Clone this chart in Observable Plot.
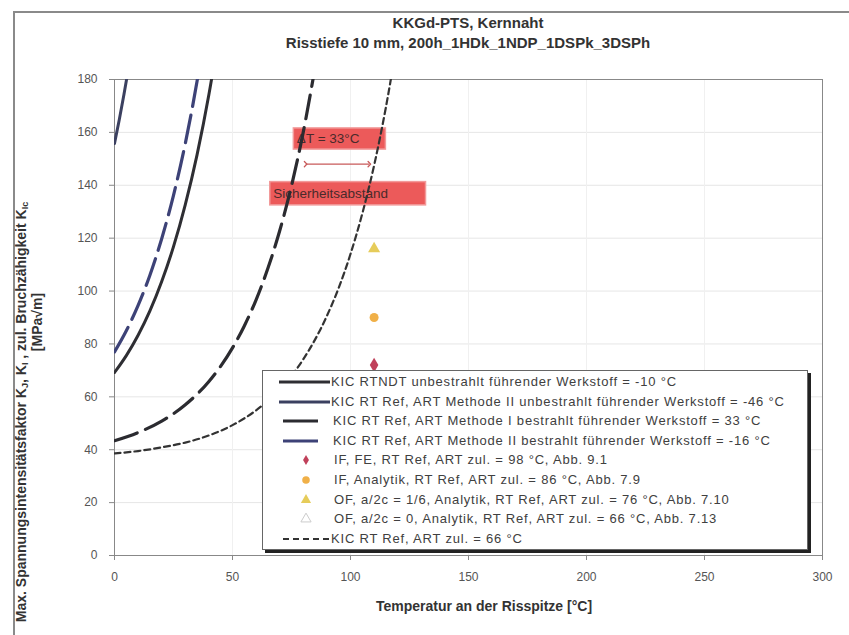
<!DOCTYPE html>
<html><head><meta charset="utf-8">
<script src="https://cdn.jsdelivr.net/npm/d3@7"></script>
<script src="https://cdn.jsdelivr.net/npm/@observablehq/plot@0.6"></script>
<style>
body{margin:0;background:#fff;font-family:"Liberation Sans",Arial,sans-serif;}
#wrap{position:relative;width:849px;height:635px;overflow:hidden;background:#fff;}
#wrap svg{position:absolute;left:0;top:0;}
.frame{position:absolute;left:13px;top:11px;width:900px;height:700px;border-left:2px solid #8a8a8a;border-top:2px solid #8a8a8a;}
.title{position:absolute;left:0;width:936px;text-align:center;font-weight:bold;font-size:15px;color:#333;white-space:nowrap;}
.rot{position:absolute;transform:translate(-50%,-50%) rotate(-90deg);white-space:nowrap;font-weight:bold;font-size:14px;color:#333;}
.rot sub{font-size:9px;vertical-align:-2px;}
.xlab{position:absolute;left:484px;top:598px;transform:translateX(-50%);font-weight:bold;font-size:14px;color:#333;white-space:nowrap;}
#legend{position:absolute;left:262px;top:370px;width:544px;height:178px;border:1px solid #666;box-shadow:3px 3px 0 #222;background:#fff;}
.row{position:absolute;left:0;height:19px;font-size:13px;letter-spacing:0.8px;color:#404040;white-space:nowrap;}
.row svg{position:absolute;left:0;top:0;}
.row span{position:absolute;top:2px;}
#wrap svg text.boxlab{letter-spacing:0.5px;}
</style></head><body>
<div id="wrap"></div>
<script>
// ---- data ----
const xTicks = [0, 50, 100, 150, 200, 250, 300];
const yTicks = [0, 20, 40, 60, 80, 100, 120, 140, 160, 180];

// KIC RTNDT unbestrahlt (-10 °C)
const rtndtT = [0, 5, 10, 15, 20, 25, 30, 35, 40, 45];
const rtndtK = [69.2, 75.6, 83.3, 92.5, 103.6, 116.8, 132.7, 151.6, 174.3, 201.5];
// KIC RT Ref, ART Methode II unbestrahlt (-46 °C)
const m2uT = [0, 2, 4, 6];
const m2uK = [155.8, 164.7, 174.3, 184.6];
// KIC RT Ref, ART Methode I bestrahlt (33 °C)
const m1bT = [0, 10, 20, 30, 40, 50, 55, 60, 65, 70, 75, 80, 85];
const m1bK = [43.4, 46.5, 50.8, 57.0, 65.8, 78.5, 86.8, 96.7, 108.6, 122.8, 139.8, 160.2, 184.6];
// KIC RT Ref, ART Methode II bestrahlt (-16 °C)
const m2bT = [0, 5, 10, 15, 20, 25, 30, 35, 40];
const m2bK = [77.0, 85.0, 94.6, 106.0, 119.8, 136.2, 155.8, 179.4, 207.6];
// KIC RT Ref, ART zul. (66 °C)
const zulT = [0, 10, 20, 30, 40, 50, 60, 70, 80, 90, 95, 100, 105, 110, 115, 120];
const zulK = [38.6, 39.5, 40.9, 42.7, 45.4, 49.3, 54.9, 62.8, 74.2, 90.6, 101.2, 114.0, 129.3, 147.5, 169.5, 195.7];

// single results
const pointNames = ["IF, FE", "IF, Analytik", "OF, a/2c = 1/6"];
const pointT = [110, 110, 110];
const pointK = [72, 90, 116];

const legendLabels = [
  "KIC RTNDT unbestrahlt führender Werkstoff = -10 °C",
  "KIC RT Ref, ART Methode II unbestrahlt führender Werkstoff = -46 °C",
  "KIC RT Ref, ART Methode I bestrahlt führender Werkstoff = 33 °C",
  "KIC RT Ref, ART Methode II bestrahlt führender Werkstoff = -16 °C",
  "IF, FE, RT Ref, ART zul. = 98 °C, Abb. 9.1",
  "IF, Analytik, RT Ref, ART zul. = 86 °C, Abb. 7.9",
  "OF, a/2c = 1/6, Analytik, RT Ref, ART zul. = 76 °C, Abb. 7.10",
  "OF, a/2c = 0, Analytik, RT Ref, ART zul. = 66 °C, Abb. 7.13",
  "KIC RT Ref, ART zul. = 66 °C"
];

// annotations (data coordinates)
const boxTexts = ["ΔT = 33°C", "Sicherheitsabstand"];
const boxX1 = [76, 66];
const boxX2 = [115, 132];
const boxY1 = [153.5, 132.4];
const boxY2 = [161.5, 141.2];
const arrowX = [81, 108];
const arrowY = 148;

// ---- build ----
const toRows = (T, K) => T.map((t, i) => ({t, k: K[i]}));
const boxes = boxTexts.map((s, i) => ({s, x1: boxX1[i], x2: boxX2[i], y1: boxY1[i], y2: boxY2[i], ym: (boxY1[i] + boxY2[i]) / 2}));
const points = pointNames.map((n, i) => ({n, t: pointT[i], k: pointK[i]}));

const styles = {
  rtndt: {stroke: "#2e2e33", strokeWidth: 3},
  m2u:   {stroke: "#3b4060", strokeWidth: 3},
  m1b:   {stroke: "#2b2b30", strokeWidth: 3.2, strokeDasharray: "24,9"},
  m2b:   {stroke: "#3d4277", strokeWidth: 3.2, strokeDasharray: "28,9"},
  zul:   {stroke: "#333", strokeWidth: 2.2, strokeDasharray: "6,4"}
};
const symbols = ["diamond", "circle", "triangle"];
const symFill = ["#c0405a", "#f0b048", "#e6cc5a"];

const chart = Plot.plot({
  width: 849, height: 635,
  marginLeft: 114, marginRight: 27, marginTop: 79, marginBottom: 80,
  x: {domain: [0, 300]},
  y: {domain: [0, 180]},
  style: {fontFamily: "Liberation Sans, Arial, sans-serif", fontSize: "12px", color: "#555", background: "transparent", overflow: "visible"},
  marks: [
    Plot.gridY(yTicks, {stroke: "#e6e6e6", strokeOpacity: 1}),
    Plot.gridX(xTicks, {stroke: "#f0f0f0", strokeOpacity: 1}),
    Plot.frame({stroke: "#888"}),
    Plot.axisX(xTicks, {tickSize: 5, tickPadding: 12, label: null, stroke: "#888"}),
    Plot.axisY(yTicks, {tickSize: 5, tickPadding: 12, label: null, stroke: "#888"}),
    Plot.rect(boxes, {x1: "x1", x2: "x2", y1: "y1", y2: "y2", fill: "#ec5a5a", stroke: "#f29a9a", strokeWidth: 1.5}),
    Plot.text(boxes, {x: "x1", y: "ym", text: "s", textAnchor: "start", dx: 3, fill: "#4a2a2a", fontSize: 13.5, className: "boxlab"}),
    Plot.link([{a: arrowX[0], b: arrowX[1]}], {x1: "a", x2: "b", y1: () => arrowY, y2: () => arrowY, stroke: "#c85a5a", strokeWidth: 1.3, marker: "arrow"}),
    Plot.line(toRows(zulT, zulK), {x: "t", y: "k", curve: "monotone-x", clip: true, ...styles.zul}),
    Plot.line(toRows(m1bT, m1bK), {x: "t", y: "k", curve: "monotone-x", clip: true, ...styles.m1b}),
    Plot.line(toRows(m2bT, m2bK), {x: "t", y: "k", curve: "monotone-x", clip: true, ...styles.m2b}),
    Plot.line(toRows(rtndtT, rtndtK), {x: "t", y: "k", curve: "monotone-x", clip: true, ...styles.rtndt}),
    Plot.line(toRows(m2uT, m2uK), {x: "t", y: "k", curve: "monotone-x", clip: true, ...styles.m2u}),
    Plot.dot(points, {x: "t", y: "k", symbol: (d, i) => symbols[i], fill: (d, i) => symFill[i], r: 4.5, stroke: "none"})
  ],
  symbol: {type: "identity"},
  color: {type: "identity"}
});

const wrap = document.getElementById("wrap");
wrap.innerHTML = `
<div class="frame"></div>
<div class="title" style="top:14px">KKGd-PTS, Kernnaht</div>
<div class="title" style="top:34px">Risstiefe 10 mm, 200h_1HDk_1NDP_1DSPk_3DSPh</div>
<div class="rot" style="left:21px;top:412px">Max. Spannungsintensitätsfaktor K<sub>J</sub>, K<sub>I</sub> , zul. Bruchzähigkeit K<sub>Ic</sub></div>
<div class="rot" style="left:37px;top:322px">[MPa√m]</div>
<div class="xlab">Temperatur an der Risspitze [°C]</div>`;
wrap.insertBefore(chart, wrap.firstChild);

// legend
const legend = document.createElement("div");
legend.id = "legend";
const sw = [
  {type: "line", st: styles.rtndt, x1: 16, x2: 67, tx: 68},
  {type: "line", st: styles.m2u, x1: 16, x2: 67, tx: 68},
  {type: "line", st: {stroke: styles.m1b.stroke, strokeWidth: 3.2}, x1: 20, x2: 55, tx: 70},
  {type: "line", st: {stroke: styles.m2b.stroke, strokeWidth: 3.2}, x1: 20, x2: 55, tx: 70},
  {type: "sym", sym: d3.symbolDiamond, fill: symFill[0], size: 30, tx: 71},
  {type: "sym", sym: d3.symbolCircle, fill: symFill[1], size: 45, tx: 71},
  {type: "sym", sym: d3.symbolTriangle, fill: symFill[2], size: 45, tx: 71},
  {type: "sym", sym: d3.symbolTriangle, fill: "#fff", stroke: "#ccc", size: 45, tx: 71},
  {type: "line", st: styles.zul, x1: 20, x2: 66, tx: 68}
];
legendLabels.forEach((lab, i) => {
  const row = document.createElement("div");
  row.className = "row";
  row.style.top = (1 + i * 19.6) + "px";
  const s = sw[i];
  let g;
  if (s.type === "line") {
    g = `<line x1="${s.x1}" x2="${s.x2}" y1="10" y2="10" stroke="${s.st.stroke}" stroke-width="${s.st.strokeWidth}" ${s.st.strokeDasharray ? `stroke-dasharray="${s.st.strokeDasharray}"` : ""}/>`;
  } else {
    g = `<path transform="translate(43,10)" d="${d3.symbol(s.sym, s.size)()}" fill="${s.fill}" stroke="${s.stroke || "none"}"/>`;
  }
  row.innerHTML = `<svg width="72" height="19">${g}</svg><span style="left:${s.tx}px">${lab}</span>`;
  legend.appendChild(row);
});
wrap.appendChild(legend);
</script>
</body></html>
